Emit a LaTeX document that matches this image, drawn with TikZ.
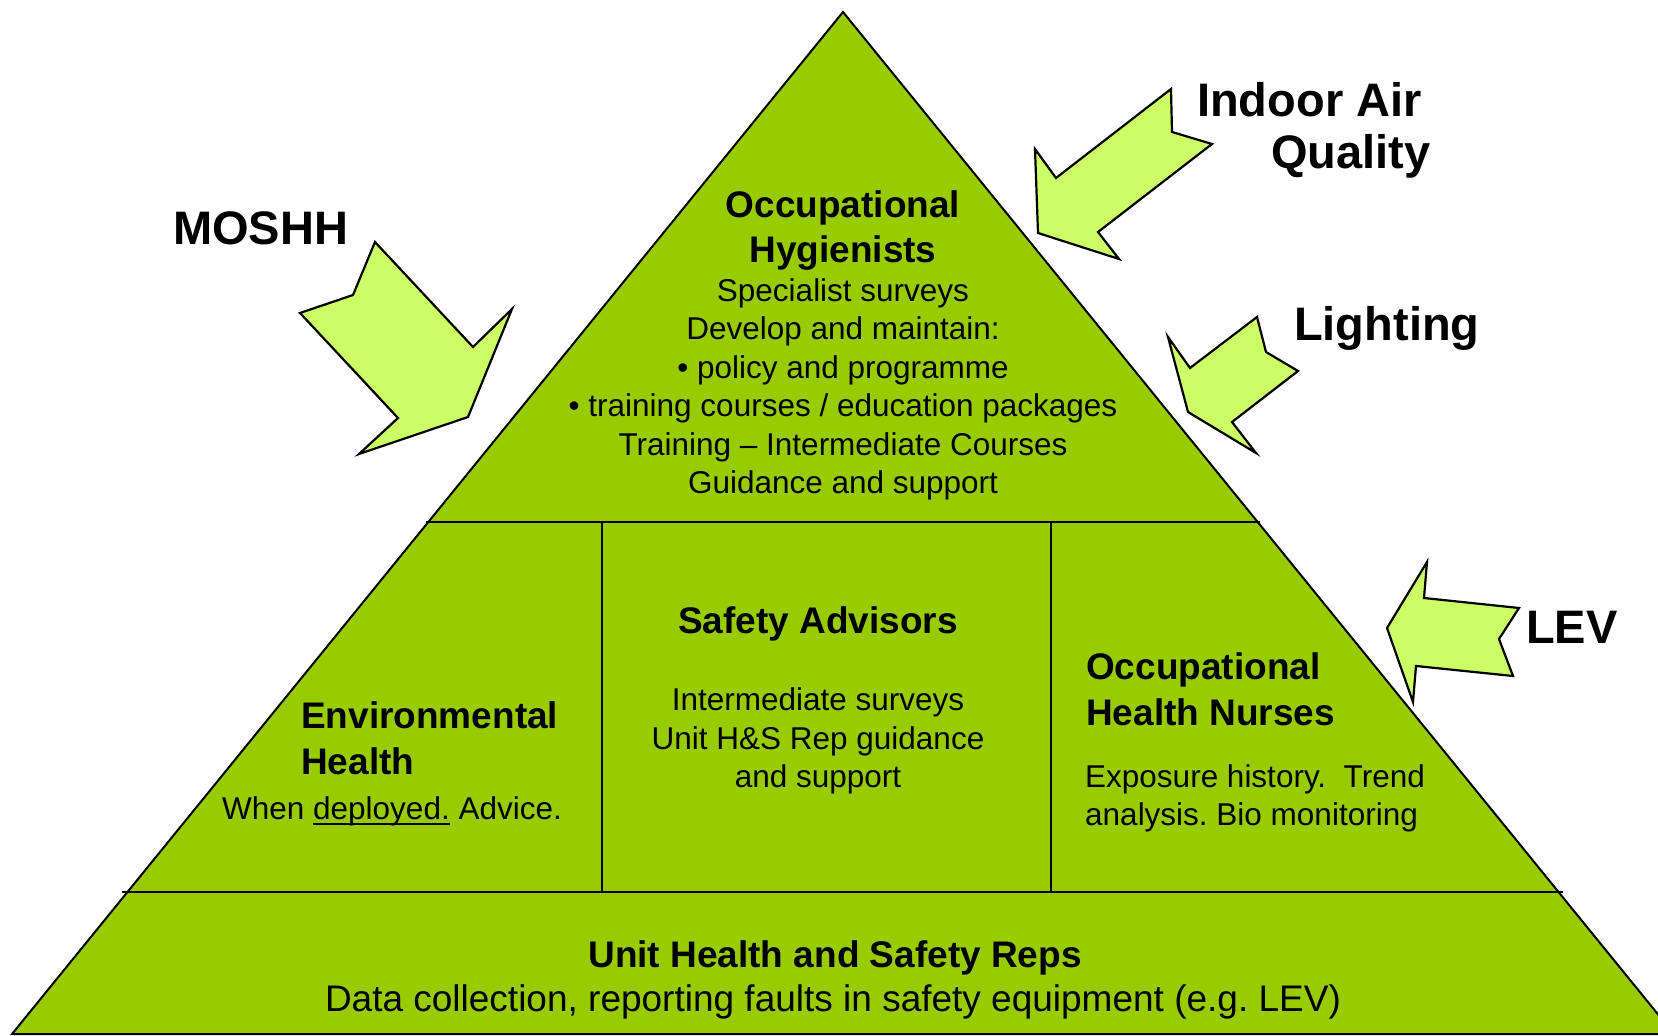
\documentclass[tikz,border=0pt]{standalone}
\usepackage{fontspec}
\setmainfont{Liberation Sans}
\definecolor{pgreen}{RGB}{153,204,0}
\definecolor{agreen}{RGB}{204,255,102}
\newsavebox{\ulbox}
\newcommand{\myul}[1]{\sbox{\ulbox}{#1}\rlap{\rule[-6pt]{\wd\ulbox}{2pt}}\usebox{\ulbox}}
\frenchspacing
\begin{document}
\begin{tikzpicture}[x=1pt,y=-1pt,
  hdr/.style={font=\fontsize{37}{45}\selectfont\bfseries\frenchspacing, inner sep=0pt, anchor=base, align=center},
  hdrL/.style={font=\fontsize{37}{45.5}\selectfont\bfseries\frenchspacing, inner sep=0pt, anchor=base west, align=left},
  bdy/.style={font=\fontsize{31.5}{38.4}\selectfont\frenchspacing, inner sep=0pt, anchor=base, align=center},
  bdyL/.style={font=\fontsize{31.5}{38.4}\selectfont\frenchspacing, inner sep=0pt, anchor=base west, align=left},
  bigl/.style={font=\fontsize{47}{56}\selectfont\bfseries, inner sep=0pt, anchor=base west},
  arrowshape/.style={fill=agreen, draw=black, line width=2.2pt},
  divider/.style={draw=black, line width=2.4pt}]
\useasboundingbox (0,0) rectangle (1658,1036);
\fill[white] (0,0) rectangle (1658,1036);
% pyramid
\draw[fill=pgreen, line width=2pt] (843,12) -- (12,1034) -- (1674,1034) -- cycle;
\draw[divider] (426,522) -- (1260,522);
\draw[divider] (122,892) -- (1563,892);
\draw[divider] (602,522) -- (602,892);
\draw[divider] (1051,522) -- (1051,892);
% arrows
\draw[arrowshape] (375,242) -- (353,295) -- (300,313) -- (398,418) -- (359,454) -- (468,417) -- (512,309) -- (473,347) -- cycle;
\draw[arrowshape] (1171,89) -- (1172,132) -- (1212,144) -- (1098,232) -- (1119,259) -- (1038,233) -- (1035,149) -- (1056,178) -- cycle;
\draw[arrowshape] (1257,317) -- (1266,352) -- (1298,371) -- (1232,422) -- (1256,453) -- (1188,412) -- (1168,337) -- (1190,368) -- cycle;
\draw[arrowshape] (1427,562) -- (1424,598) -- (1519,608) -- (1499,639) -- (1513,676) -- (1416,666) -- (1413,702) -- (1387,628) -- cycle;
% big labels
\node[bigl] (moshh) at (173,244) {MOSHH};
\node[bigl] (iaq1) at (1197,116) {Indoor Air};
\node[bigl] (iaq2) at (1271,168) {Quality};
\node[bigl] (light) at (1294,340) {Lighting};
\node[bigl] (lev) at (1526,643) {LEV};
% top tier (multi-line nodes are placed at the baseline of their last line)
\node[hdr] (ohT) at (843,262) {Occupational\\Hygienists};
\node[bdy] (ohB) at (843,493.5) {Specialist surveys\\Develop and maintain:\\• policy and programme\\• training courses / education packages\\Training – Intermediate Courses\\Guidance and support};
% middle tier
\node[hdr] (saT) at (818,633) {Safety Advisors};
\node[bdy] (saB) at (818,787.5) {Intermediate surveys\\Unit H\&S Rep guidance\\and support};
\node[hdrL] (ehT) at (301,774) {Environmental\\Health};
\node[bdy] (ehB) at (392,819) {When \myul{deployed.} Advice.};
\node[hdrL] (ohnT) at (1086,725) {Occupational\\Health Nurses};
\node[bdyL] (ohnB) at (1085,825.7) {Exposure history.\ \ Trend\\analysis. Bio monitoring};
% bottom tier
\node[hdr] (uhT) at (835,967) {Unit Health and Safety Reps};
\node[font=\fontsize{37}{44}\selectfont\frenchspacing, inner sep=0pt, anchor=base] (uhB) at (833,1011) {Data collection, reporting faults in safety equipment (e.g. LEV)};
\end{tikzpicture}
\end{document}
